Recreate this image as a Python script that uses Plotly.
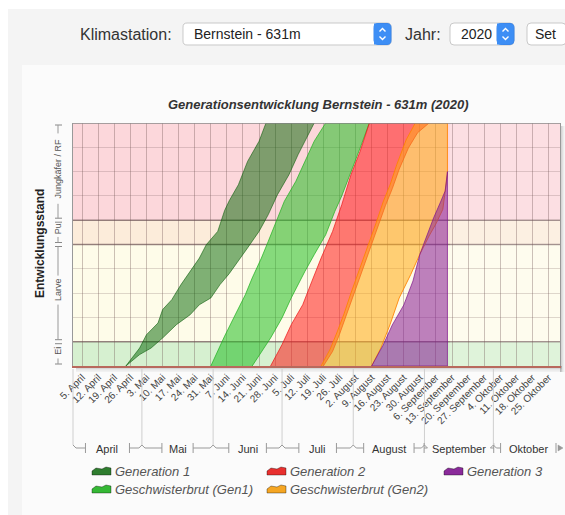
import datetime as dt
import plotly.graph_objects as go

FONT = "Liberation Sans, Arial, sans-serif"

# ---------------- data ----------------
title_text = "Generationsentwicklung Bernstein - 631m (2020)"
station_label = "Klimastation:"
station_name = "Bernstein - 631m"
year_label = "Jahr:"
year_text = "2020"
button_text = "Set"
y_title = "Entwicklungsstand"

stage_labels = ["Ei", "Larve", "Pu", "Jungkäfer / RF"]
stage_from = [0, 1, 5, 6]
stage_to = [1, 5, 6, 10]
stage_colors = ["#d6f0d0", "#fefce9", "#fcecda", "#fcd7db"]

x_start = "2020-04-01"
x_end = "2020-10-30"
data_end = "2020-09-12"

tick_dates = ["2020-04-05", "2020-04-12", "2020-04-19", "2020-04-26", "2020-05-03",
              "2020-05-10", "2020-05-17", "2020-05-24", "2020-05-31", "2020-06-07",
              "2020-06-14", "2020-06-21", "2020-06-28", "2020-07-05", "2020-07-12",
              "2020-07-19", "2020-07-26", "2020-08-02", "2020-08-09", "2020-08-16",
              "2020-08-23", "2020-08-30", "2020-09-06", "2020-09-13", "2020-09-20",
              "2020-09-27", "2020-10-04", "2020-10-11", "2020-10-18", "2020-10-25"]
tick_labels = ["5. April", "12. April", "19. April", "26. April", "3. Mai",
               "10. Mai", "17. Mai", "24. Mai", "31. Mai", "7. Juni",
               "14. Juni", "21. Juni", "28. Juni", "5. Juli", "12. Juli",
               "19. Juli", "26. Juli", "2. August", "9. August", "16. August",
               "23. August", "30. August", "6. September", "13. September", "20. September",
               "27. September", "4. Oktober", "11. Oktober", "18. Oktober", "25. Oktober"]

month_names = ["April", "Mai", "Juni", "Juli", "August", "September", "Oktober"]
month_starts = ["2020-04-01", "2020-05-01", "2020-06-01", "2020-07-01",
                "2020-08-01", "2020-09-01", "2020-10-01"]
month_ends = ["2020-05-01", "2020-06-01", "2020-07-01", "2020-08-01",
              "2020-09-01", "2020-10-01", "2020-11-01"]

series_names = ["Generation 1", "Geschwisterbrut (Gen1)", "Generation 2",
                "Geschwisterbrut (Gen2)", "Generation 3"]

gen1_early_dates = ["2020-04-24", "2020-04-30", "2020-05-03", "2020-05-08", "2020-05-10",
                    "2020-05-14", "2020-05-18", "2020-05-22", "2020-05-26", "2020-05-29",
                    "2020-06-03", "2020-06-06", "2020-06-08", "2020-06-12", "2020-06-16",
                    "2020-06-21", "2020-06-24"]
gen1_early_stage = [0, 0.74, 1.29, 1.77, 2.32, 2.73, 3.35, 3.90, 4.44, 4.99,
                    5.54, 6.40, 6.80, 7.46, 8.42, 9.25, 10]
gen1_late_dates = ["2020-04-24", "2020-04-30", "2020-05-05", "2020-05-10", "2020-05-16",
                   "2020-05-22", "2020-05-26", "2020-05-31", "2020-06-04", "2020-06-08",
                   "2020-06-12", "2020-06-16", "2020-06-21", "2020-06-25", "2020-06-29",
                   "2020-07-04", "2020-07-08", "2020-07-11", "2020-07-15"]
gen1_late_stage = [0, 0.47, 0.74, 1.15, 1.70, 2.11, 2.52, 2.80, 3.35, 3.80,
                   4.31, 4.86, 5.54, 6.23, 7.05, 7.87, 8.70, 9.25, 10]

gb1_early_dates = ["2020-05-31", "2020-06-06", "2020-06-11", "2020-06-15", "2020-06-18",
                   "2020-06-22", "2020-06-25", "2020-06-28", "2020-07-02", "2020-07-07",
                   "2020-07-11", "2020-07-15", "2020-07-20"]
gb1_early_stage = [0, 1.23, 2.18, 2.93, 3.62, 4.44, 5.13, 5.81, 6.78, 7.60, 8.42, 9.25, 10]
gb1_late_dates = ["2020-06-18", "2020-06-22", "2020-06-26", "2020-07-01", "2020-07-05",
                  "2020-07-11", "2020-07-15", "2020-07-20", "2020-07-24", "2020-07-27",
                  "2020-07-31", "2020-08-04", "2020-08-08"]
gb1_late_stage = [0, 0.60, 1.15, 1.98, 2.80, 3.90, 4.58, 5.40, 6.37, 7.00, 8.01, 8.97, 10]

gen2_early_dates = ["2020-06-26", "2020-07-01", "2020-07-05", "2020-07-10", "2020-07-14",
                    "2020-07-18", "2020-07-23", "2020-07-27", "2020-07-31", "2020-08-04",
                    "2020-08-08"]
gen2_early_stage = [0, 0.88, 1.70, 2.52, 3.49, 4.44, 5.54, 6.64, 7.87, 8.84, 10]
gen2_late_dates = ["2020-07-19", "2020-07-23", "2020-07-26", "2020-07-29", "2020-08-01",
                   "2020-08-05", "2020-08-09", "2020-08-12", "2020-08-15", "2020-08-18",
                   "2020-08-21", "2020-08-25", "2020-08-29", "2020-09-03"]
gen2_late_stage = [0, 0.60, 1.30, 2.05, 2.90, 3.95, 4.95, 5.80, 6.60, 7.30,
                   8.10, 8.97, 9.60, 10]

gb2_early_dates = ["2020-07-18", "2020-07-22", "2020-07-25", "2020-07-28", "2020-07-31",
                   "2020-08-04", "2020-08-08", "2020-08-11", "2020-08-14", "2020-08-17",
                   "2020-08-20", "2020-08-24", "2020-08-28", "2020-09-11"]
gb2_early_stage = [0, 0.70, 1.40, 2.15, 3.00, 4.05, 5.05, 5.90, 6.75, 7.45,
                   8.30, 9.30, 10, 10]
gb2_late_dates = ["2020-08-09", "2020-08-13", "2020-08-17", "2020-08-21", "2020-08-26",
                  "2020-08-30", "2020-09-03", "2020-09-06", "2020-09-09", "2020-09-11"]
gb2_late_stage = [0, 0.74, 1.70, 2.80, 3.76, 4.60, 5.35, 5.85, 6.45, 7.90]

gen3_early_dates = ["2020-08-09", "2020-08-14", "2020-08-18", "2020-08-23", "2020-08-27",
                    "2020-08-30", "2020-09-02", "2020-09-05", "2020-09-08", "2020-09-10",
                    "2020-09-11"]
gen3_early_stage = [0, 0.86, 1.69, 2.51, 3.50, 4.60, 5.35, 6.10, 6.75, 7.20, 8.00]
gen3_late_dates = ["2020-08-09", "2020-09-11"]
gen3_late_stage = [0, 0]

series_fill = ["rgba(0,100,0,0.5)", "rgba(35,190,35,0.55)", "rgba(255,25,25,0.55)",
               "rgba(255,170,20,0.55)", "rgba(135,25,150,0.55)"]
series_line = ["rgba(0,85,0,0.55)", "rgba(30,175,30,0.7)", "rgba(235,20,20,0.7)",
               "rgba(255,130,0,0.85)", "rgba(125,20,140,0.7)"]
legend_colors = ["#2f7d2f", "#35b835", "#e8302f", "#f5a623", "#8a2a9a"]

# ---------------- geometry helpers ----------------
W, H = 565, 515
L, R, T, B = 73, 560, 123, 366


def X(x):
    return (x - L) / (R - L)


def Y(y):
    return (B - y) / (B - T)


d0 = dt.date.fromisoformat(x_start)
ndays = (dt.date.fromisoformat(x_end) - d0).days


def dpx(s):
    return L + (dt.date.fromisoformat(s) - d0).days * (R - L) / ndays


def spx(stage):
    return B - stage * (B - T) / 10


shapes = []
annos = []


def rect(x0, y0, x1, y1, fill, layer="below", line_color=None, lw=0):
    shapes.append(dict(type="rect", xref="paper", yref="paper", x0=X(x0), y0=Y(y1),
                       x1=X(x1), y1=Y(y0), fillcolor=fill, layer=layer,
                       line=dict(color=line_color or "rgba(0,0,0,0)", width=lw)))


def line(x0, y0, x1, y1, color, width=1, layer="above"):
    shapes.append(dict(type="line", xref="paper", yref="paper", x0=X(x0), y0=Y(y0),
                       x1=X(x1), y1=Y(y1), line=dict(color=color, width=width), layer=layer))


def path(pts, fill=None, color="rgba(0,0,0,0)", width=1, closed=True, layer="above"):
    s = "M" + " L".join(f"{X(a):.5f},{Y(b):.5f}" for a, b in pts) + (" Z" if closed else "")
    shapes.append(dict(type="path", xref="paper", yref="paper", path=s,
                       fillcolor=fill if fill else "rgba(0,0,0,0)",
                       line=dict(color=color, width=width), layer=layer))


def rrect(x0, y0, x1, y1, r, fill, color, width=1, layer="above"):
    P = lambda a, b: f"{X(a):.5f},{Y(b):.5f}"
    s = (f"M{P(x0 + r, y0)} L{P(x1 - r, y0)} Q{P(x1, y0)} {P(x1, y0 + r)} "
         f"L{P(x1, y1 - r)} Q{P(x1, y1)} {P(x1 - r, y1)} L{P(x0 + r, y1)} "
         f"Q{P(x0, y1)} {P(x0, y1 - r)} L{P(x0, y0 + r)} Q{P(x0, y0)} {P(x0 + r, y0)} Z")
    shapes.append(dict(type="path", xref="paper", yref="paper", path=s, fillcolor=fill,
                       line=dict(color=color, width=width), layer=layer))


def text(x, y, s, size=11, color="#333", xanchor="center", yanchor="middle",
         angle=0, bold=False, italic=False):
    if bold:
        s = f"<b>{s}</b>"
    if italic:
        s = f"<i>{s}</i>"
    annos.append(dict(x=X(x), y=Y(y), xref="paper", yref="paper", text=s, showarrow=False,
                      xanchor=xanchor, yanchor=yanchor, textangle=angle,
                      font=dict(family=FONT, size=size, color=color)))


# ---------------- page background ----------------
rect(8, 9, W + 2, H + 2, "#f4f4f4")
rect(22, 65, W + 2, H + 2, "#fbfbfb")

# header controls
text(78, 34, station_label, size=16, color="#333", xanchor="left")
rrect(183, 23, 391, 45, 4, "#ffffff", "#c9c9c9")
rrect(374, 23.5, 391, 44.5, 4, "#3d8ef5", "#3a86ea")
rect(374, 23.5, 380, 44.5, "#3d8ef5", layer="above")
path([(379.5, 31.5), (382.5, 28.5), (385.5, 31.5)], color="white", width=1.4, closed=False)
path([(379.5, 36.5), (382.5, 39.5), (385.5, 36.5)], color="white", width=1.4, closed=False)
text(192, 34.5, station_name, size=14, color="#222", xanchor="left")
text(403, 34, year_label, size=16, color="#333", xanchor="left")
rrect(450, 23, 514, 45, 4, "#ffffff", "#c9c9c9")
rrect(497, 23.5, 514, 44.5, 4, "#3d8ef5", "#3a86ea")
rect(497, 23.5, 503, 44.5, "#3d8ef5", layer="above")
path([(502.5, 31.5), (505.5, 28.5), (508.5, 31.5)], color="white", width=1.4, closed=False)
path([(502.5, 36.5), (505.5, 39.5), (508.5, 36.5)], color="white", width=1.4, closed=False)
text(459, 34.5, year_text, size=14, color="#222", xanchor="left")
rrect(527, 23, 566, 45, 4, "#ffffff", "#c9c9c9")
text(545, 34.5, button_text, size=14, color="#222")

# title
text(318, 104, title_text, size=13, color="#333", bold=True, italic=True)

# plot shadow
for i, a in enumerate([0.22, 0.14, 0.08, 0.04]):
    rect(L + 3, B + i * 1.5, R + 2, B + (i + 1) * 1.5, f"rgba(0,0,0,{a})")
    rect(R + i * 1.2, T + 3, R + (i + 1) * 1.2, B + 6, f"rgba(0,0,0,{a})")

# stage bands inside plot
for a, b, c in zip(stage_from, stage_to, stage_colors):
    shapes.append(dict(type="rect", xref="paper", yref="y", x0=0, x1=1, y0=a, y1=b,
                       fillcolor=c, line=dict(width=0), layer="below"))
shapes.append(dict(type="rect", xref="x", yref="y", x0=data_end, x1=x_end, y0=0, y1=10,
                   fillcolor="rgba(255,255,255,0.22)", line=dict(width=0), layer="below"))
for b in stage_to[:-1]:
    shapes.append(dict(type="line", xref="paper", yref="y", x0=0, x1=1, y0=b, y1=b,
                       line=dict(color="rgba(95,70,70,0.6)", width=1.6), layer="between"))
shapes.append(dict(type="line", xref="paper", yref="y", x0=0, x1=1, y0=10, y1=10,
                   line=dict(color="#8a8a8a", width=1.3), layer="above"))

# y bracket labels
bx = 58
for a, b, lab in zip(stage_from, stage_to, stage_labels):
    yt, yb = spx(b) + 2, spx(a) - 2
    yc = (yt + yb) / 2 - 3
    half = len(lab) * 2.3 + 3
    line(bx - 3, yt, bx + 4, yt, "#888")
    line(bx - 3, yb, bx + 4, yb, "#888")
    if yc - half > yt:
        line(bx, yt, bx, yc - half, "#999")
    if yc + half < yb:
        line(bx, yc + half, bx, yb, "#999")
    text(bx, yc, lab, size=9, color="#555", angle=-90)
text(40, 244, y_title, size=12, color="#222", angle=-90, bold=True)

# month brackets
my = 448
for i, (m, s, e) in enumerate(zip(month_names, month_starts, month_ends)):
    a = dpx(s)
    b = min(dpx(e), 556)
    c = (dpx(s) + dpx(e)) / 2
    hw = len(m) * 3.2 + 6
    line(a, B + 3, a, my - 3, "#cfcfcf")
    line(a, my - 3, a + 3, my, "#999")
    line(a + 3, my, c - hw, my, "#999")
    line(c - hw, my - 5, c - hw, my + 5, "#999")
    if i < len(month_names) - 1:
        line(c + hw, my - 5, c + hw, my + 5, "#999")
        line(c + hw, my, b - 3, my, "#999")
        line(b - 3, my, b, my - 3, "#999")
    text(c, my + 1, m, size=11, color="#333")
line(556, my - 5, 556, my + 5, "#999")
path([(558, my - 3), (563, my), (558, my + 3)], fill="#999", color="#999", width=0.5)

# legend (custom)
leg_pos = [(92, 471), (92, 489), (267, 471), (267, 489), (444, 471)]
for (lx, ly), nm, col in zip(leg_pos, series_names, legend_colors):
    path([(lx, ly + 4), (lx, ly), (lx + 4, ly - 3), (lx + 10, ly - 2), (lx + 14, ly - 4),
          (lx + 19, ly - 3), (lx + 19, ly + 4)], fill=col, color="rgba(0,0,0,0.35)", width=1)
    text(lx + 21, ly, nm, size=13, color="#555", xanchor="left", italic=True)

# ---------------- traces ----------------
edges = [
    (gen1_early_dates, gen1_early_stage, gen1_late_dates, gen1_late_stage),
    (gb1_early_dates, gb1_early_stage, gb1_late_dates, gb1_late_stage),
    (gen2_early_dates, gen2_early_stage, gen2_late_dates, gen2_late_stage),
    (gb2_early_dates, gb2_early_stage, gb2_late_dates, gb2_late_stage),
    (gen3_early_dates, gen3_early_stage, gen3_late_dates, gen3_late_stage),
]

fig = go.Figure()
for (ed, es, ld, ls), nm, fc, lc in zip(edges, series_names, series_fill, series_line):
    fig.add_trace(go.Scatter(
        x=ed + ld[::-1], y=es + ls[::-1], mode="lines", fill="toself",
        fillcolor=fc, line=dict(color=lc, width=1), name=nm,
        showlegend=False, hoverinfo="skip"))

fig.update_layout(
    width=W, height=H,
    margin=dict(l=L, r=W - R, t=T, b=H - B, pad=0),
    paper_bgcolor="white",
    plot_bgcolor="rgba(0,0,0,0)",
    showlegend=False,
    shapes=shapes,
    annotations=annos,
    font=dict(family=FONT),
    xaxis=dict(
        type="date", range=[x_start, x_end], tickmode="array",
        tickvals=tick_dates, ticktext=tick_labels, tickangle=-45,
        tickfont=dict(family=FONT, size=10, color="#444"),
        showgrid=True, gridcolor="rgba(110,80,80,0.35)", gridwidth=1,
        ticks="", showline=True, linecolor="#b8695d", linewidth=1.5,
        zeroline=False, fixedrange=True,
    ),
    yaxis=dict(
        range=[0, 10], tickmode="linear", tick0=0, dtick=1,
        showticklabels=False, ticks="",
        showgrid=True, gridcolor="rgba(110,80,80,0.22)", gridwidth=1,
        showline=True, mirror=True, linecolor="#999", linewidth=1,
        zeroline=False, fixedrange=True,
    ),
)

fig.write_html(
    "out.html",
    config={"displayModeBar": False},
    post_script="document.body.style.margin='0';document.body.style.overflow='hidden';",
)
